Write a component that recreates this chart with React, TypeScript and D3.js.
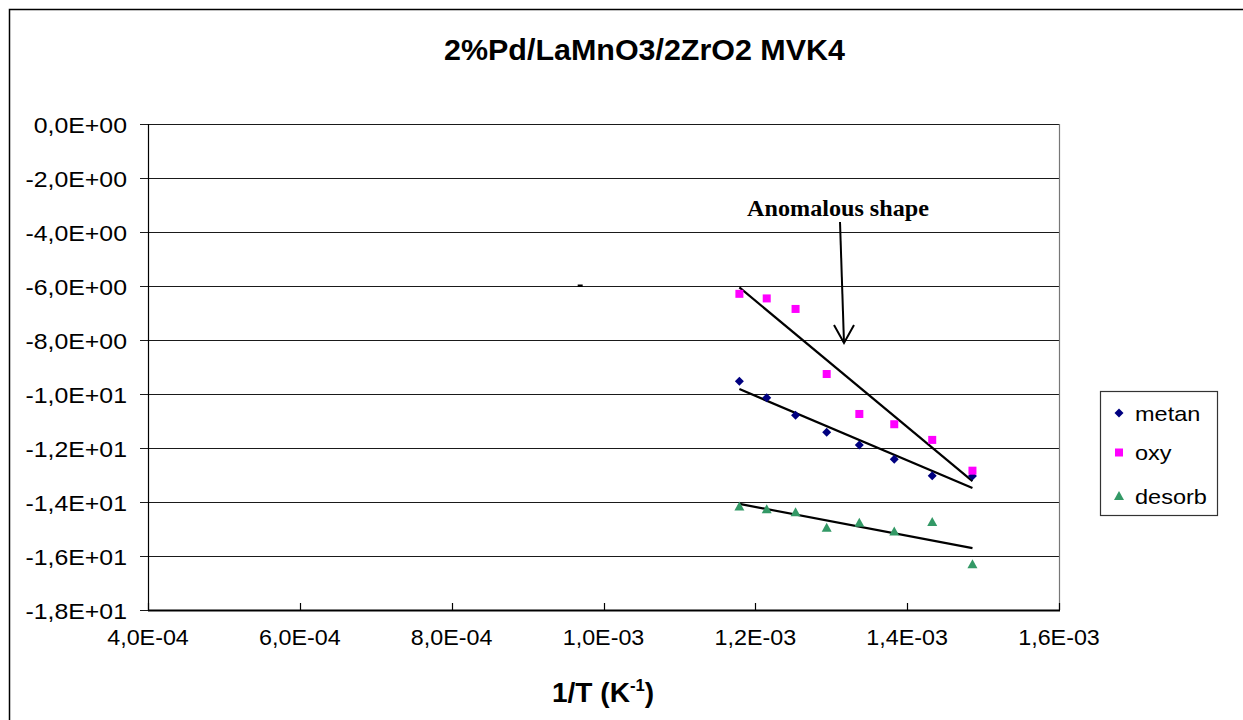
import React from "react";
import * as d3 from "d3";

const title = "2%Pd/LaMnO3/2ZrO2 MVK4";
const invT = [0.001179, 0.001215, 0.001253, 0.001294, 0.001337, 0.001383, 0.001433, 0.001486];
const metan = [-9.53, -10.14, -10.79, -11.42, -11.89, -12.42, -13.03, -13.04];
const oxy = [-6.29, -6.46, -6.85, -9.26, -10.74, -11.12, -11.7, -12.84];
const desorb = [-14.17, -14.27, -14.38, -14.95, -14.77, -15.09, -14.74, -16.31];
const seriesNames = ["metan", "oxy", "desorb"];
const seriesColors = ["#000080", "#FF00FF", "#339966"];
const xTicks = [0.0004, 0.0006, 0.0008, 0.001, 0.0012, 0.0014, 0.0016];
const yTicks = [0, -2, -4, -6, -8, -10, -12, -14, -16, -18];
const annotation = "Anomalous shape";

const W = 1243;
const H = 720;
const PL = 148, PR = 1059, PT = 124, PB = 610;
const FONT = "'Liberation Sans', Arial, sans-serif";

function fmtE(v: number): string {
  const s = v.toExponential(1);
  const [m, e] = s.split("e");
  const sign = e[0] === "-" ? "-" : "+";
  const digits = e.replace(/[+-]/, "").padStart(2, "0");
  return m.replace(".", ",") + "E" + sign + digits;
}

function linreg(xs: number[], ys: number[]) {
  const mx = d3.mean(xs) as number;
  const my = d3.mean(ys) as number;
  let sxy = 0, sxx = 0;
  xs.forEach((x, i) => {
    sxy += (x - mx) * (ys[i] - my);
    sxx += (x - mx) * (x - mx);
  });
  const b = sxy / sxx;
  const a = my - b * mx;
  return (x: number) => a + b * x;
}

function Marker({ kind, x, y, color }: { kind: number; x: number; y: number; color: string }) {
  if (kind === 0) {
    const r = 4.5;
    return <path d={`M${x},${y - r}L${x + r},${y}L${x},${y + r}L${x - r},${y}Z`} fill={color} />;
  }
  if (kind === 1) {
    return <rect x={x - 4} y={y - 4} width={8} height={8} fill={color} />;
  }
  return <path d={`M${x},${y - 5}L${x + 5},${y + 4}L${x - 5},${y + 4}Z`} fill={color} />;
}

export default function App() {
  const x = d3.scaleLinear().domain([0.0004, 0.0016]).range([PL, PR]);
  const y = d3.scaleLinear().domain([-18, 0]).range([PB, PT]);
  const all = [metan, oxy, desorb];
  const x0 = d3.min(invT) as number;
  const x1 = d3.max(invT) as number;
  const line = d3.line<[number, number]>().x((d) => x(d[0])).y((d) => y(d[1]));

  return (
    <svg width={W} height={H} style={{ position: "absolute", left: 0, top: 0, background: "#fff" }}>
      <rect x={0} y={0} width={W} height={H} fill="#fff" />
      <rect x={9.5} y={9.5} width={W + 20} height={H + 20} fill="none" stroke="#000" strokeWidth={1.5} />
      <text
        transform={`translate(${(443 + 846) / 2},60) scale(1.05,1)`}
        textAnchor="middle"
        fontFamily={FONT}
        fontWeight="bold"
        fontSize={29}
      >
        {title}
      </text>
      {/* gridlines */}
      {yTicks.map((t) => (
        <line key={"g" + t} x1={PL - 8} x2={PR} y1={Math.round(y(t)) + 0.5} y2={Math.round(y(t)) + 0.5} stroke="#1a1a1a" strokeWidth={1.2} />
      ))}
      <line x1={PR + 0.5} x2={PR + 0.5} y1={PT} y2={PB} stroke="#777" strokeWidth={1.2} />
      <line x1={PL + 0.5} x2={PL + 0.5} y1={PT} y2={PB} stroke="#000" strokeWidth={1.2} />
      <line x1={PL} x2={PR + 1} y1={PB + 0.5} y2={PB + 0.5} stroke="#000" strokeWidth={2} />
      {xTicks.map((t) => (
        <line key={"xt" + t} x1={Math.round(x(t)) + 0.5} x2={Math.round(x(t)) + 0.5} y1={PB - 7} y2={PB} stroke="#000" strokeWidth={1.2} />
      ))}
      {yTicks.map((t) => (
        <text
          key={"yl" + t}
          transform={`translate(127,${y(t) + 8.5}) scale(1.13,1)`}
          textAnchor="end"
          fontFamily={FONT}
          fontSize={22}
        >
          {fmtE(t)}
        </text>
      ))}
      {xTicks.map((t) => (
        <text
          key={"xl" + t}
          transform={`translate(${x(t)},645) scale(1.06,1)`}
          textAnchor="middle"
          fontFamily={FONT}
          fontSize={22}
        >
          {fmtE(t)}
        </text>
      ))}
      <text transform="translate(603,702) scale(1.04,1)" textAnchor="middle" fontFamily={FONT} fontWeight="bold" fontSize={27}>
        1/T (K<tspan fontSize={16} dy={-11}>-1</tspan>
        <tspan dy={11}>)</tspan>
      </text>
      {/* trend lines */}
      {all.map((vals, i) => {
        const f = linreg(invT, vals);
        return (
          <path
            key={"tr" + i}
            d={line([[x0, f(x0)], [x1, f(x1)]]) as string}
            stroke="#000"
            strokeWidth={2.2}
            fill="none"
          />
        );
      })}
      {/* points */}
      {all.map((vals, si) =>
        vals.map((v, i) => (
          <Marker key={`m${si}-${i}`} kind={si} x={x(invT[i])} y={y(v)} color={seriesColors[si]} />
        ))
      )}
      {/* stray mark */}
      <rect x={x(0.000966)} y={y(-6) - 1.5} width={5} height={2.5} fill="#000" />
      {/* annotation */}
      <text
        transform="translate(838,216) scale(1.05,1)"
        textAnchor="middle"
        fontFamily="'Liberation Serif', 'Times New Roman', serif"
        fontWeight="bold"
        fontSize={23}
      >
        {annotation}
      </text>
      <path d="M840,222 L844,343" stroke="#000" strokeWidth={2} fill="none" />
      <path d="M834,325 L844,343 L854,325" stroke="#000" strokeWidth={2} fill="none" />
      {/* legend */}
      <rect x={1100.5} y={391.5} width={117} height={124} fill="#fff" stroke="#333" strokeWidth={1.2} />
      {seriesNames.map((n, i) => (
        <g key={"lg" + n}>
          <Marker kind={i} x={1119} y={[413, 452.5, 496][i]} color={seriesColors[i]} />
          <text
            transform={`translate(1135,${[413, 452.5, 496][i] + 7.5}) scale(1.12,1)`}
            fontFamily={FONT}
            fontSize={21}
          >
            {n}
          </text>
        </g>
      ))}
    </svg>
  );
}
